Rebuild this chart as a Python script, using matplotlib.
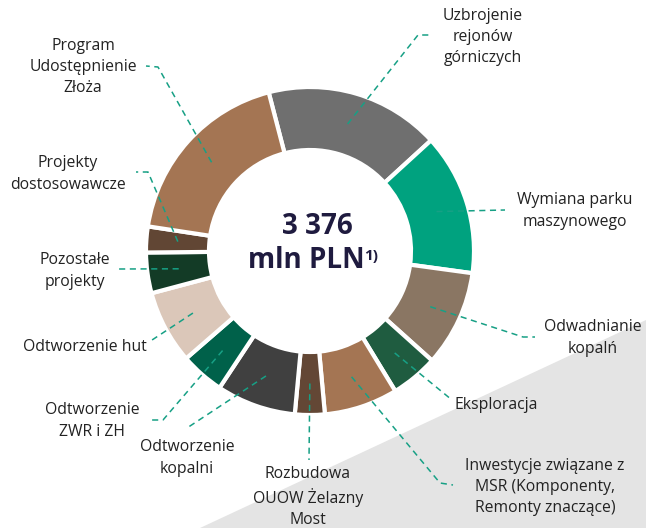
import matplotlib
matplotlib.use("Agg")
import matplotlib.pyplot as plt
from matplotlib.patches import Polygon
import numpy as np

plt.rcParams["font.family"] = ["Open Sans", "DejaVu Sans"]

# capex split, mln PLN (clockwise from "Uzbrojenie")
labels = ["Uzbrojenie\nrejonów\ngórniczych", "Wymiana parku\nmaszynowego",
          "Odwadnianie\nkopalń", "Eksploracja",
          "Inwestycje związane z\nMSR (Komponenty,\nRemonty znaczące)",
          "Rozbudowa\nOUOW Żelazny\nMost", "Odtworzenie\nkopalni",
          "Odtworzenie\nZWR i ZH", "Odtworzenie hut", "Pozostałe\nprojekty",
          "Projekty\ndostosowawcze", "Program\nUdostępnienie\nZłoża"]
values = [583, 471, 320, 157, 245, 99, 264, 146, 244, 135, 86, 626]
total_txt = "3 376"
colors = ["#6f6f6f", "#00a27f", "#8a7663", "#1f5c40", "#a47553", "#634735",
          "#404040", "#00614a", "#dbc7b9", "#133b26", "#614634", "#a47553"]

H = 528
CX, CY, R, W = 310, H - 251, 164, 63
LEAD = "#17a085"

# leader: (elbow or None, end) in pixel coords (y from top); label pos + align
leaders = [((418, 35), (430, 35)), (None, (505, 210)), ((523, 337), (535, 337)),
           (None, (452, 400)), ((440, 483), (453, 485)), (None, (309, 460)),
           (None, (187, 428)), ((163, 420), (149, 420)), (None, (149, 342)),
           (None, (119, 269)), ((148, 172), (136, 172)), ((158, 67), (146, 66))]
label_pos = [(483, 37, "center"), (575, 211, "center"), (593, 338, "center"),
             (455, 405, "left"), (545, 487, "center"), (308, 497, "center"),
             (187, 458, "center"), (92, 421, "center"), (147, 347, "right"),
             (75, 271, "center"), (68, 174, "center"), (83, 67, "center")]

fig = plt.figure(figsize=(6.46, 5.28), dpi=100)
ax = fig.add_axes([0, 0, 1, 1])

# light grey background wedge, bottom right
ax.add_patch(Polygon([(200, 0), (646, H - 320), (646, 0)], closed=True,
                     facecolor="#e4e4e4", edgecolor="none", zorder=0))

wedges, _ = ax.pie(values, colors=colors, startangle=104.6, counterclock=False,
                   radius=R, center=(CX, CY), frame=True,
                   wedgeprops=dict(width=W, edgecolor="white", linewidth=3))

rm = R - W / 2
for w, (elbow, end), (lx, ly, ha), lab in zip(wedges, leaders, label_pos, labels):
    mid = np.deg2rad((w.theta1 + w.theta2) / 2)
    pts = [(CX + rm * np.cos(mid), CY + rm * np.sin(mid))]
    if elbow is not None:
        pts.append((elbow[0], H - elbow[1]))
    pts.append((end[0], H - end[1]))
    xs, ys = zip(*pts)
    ax.plot(xs, ys, color=LEAD, lw=1.1, ls=(0, (4, 3)), zorder=3)
    ax.text(lx, H - ly, lab, ha=ha, va="center", fontsize=11.3, color="#222222",
            linespacing=1.42, zorder=4)

ax.text(317, H - 227, total_txt, ha="center", va="center", fontsize=20,
        fontweight="bold", color="#1f1b3f")
ax.text(306, H - 261, "mln PLN", ha="center", va="center", fontsize=20,
        fontweight="bold", color="#1f1b3f")
ax.text(364, H - 256, "1)", ha="left", va="center", fontsize=11,
        fontweight="bold", color="#1f1b3f")

ax.set_xlim(0, 646)
ax.set_ylim(0, H)
ax.set_aspect("equal")
ax.axis("off")

fig.savefig("out.png", dpi=100, facecolor="white")
